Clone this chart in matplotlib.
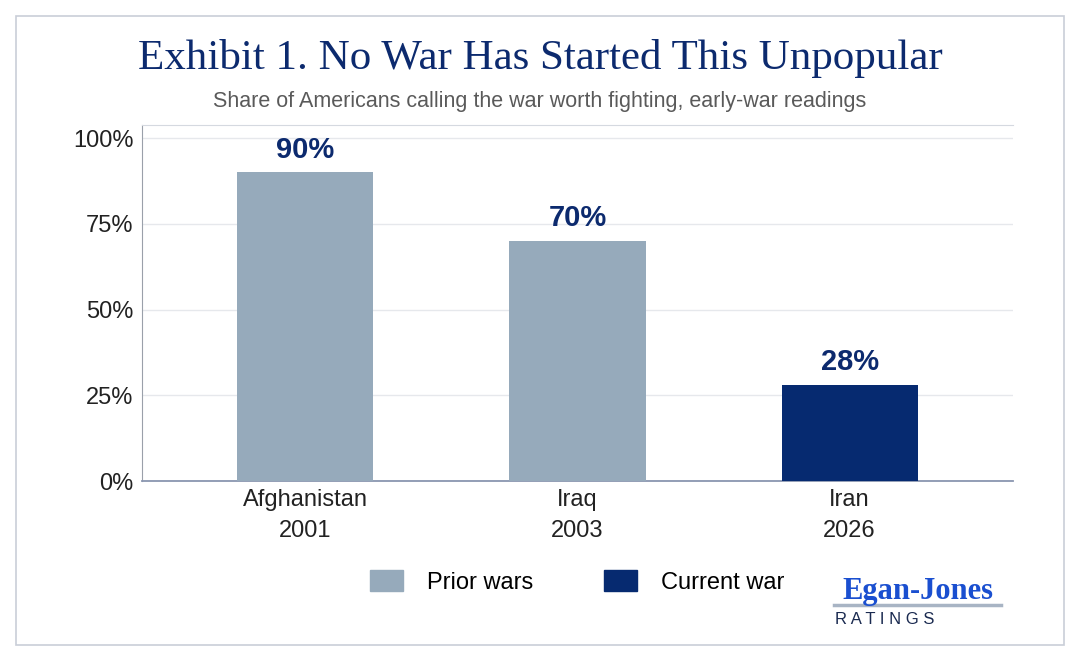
import matplotlib.pyplot as plt
from matplotlib.patches import Rectangle, Patch

WARS = ["Afghanistan\n2001", "Iraq\n2003", "Iran\n2026"]
SHARE = [90, 70, 28]
IS_CURRENT = [False, False, True]
Y_TICKS = [0, 25, 50, 75, 100]

PRIOR = "#96aabb"
CURRENT = "#062a70"
NAVY = "#0c2a6e"

plt.rcParams["font.family"] = ["Liberation Sans", "DejaVu Sans"]

fig = plt.figure(figsize=(10.8, 6.61), dpi=100)
fig.patches.append(Rectangle((16 / 1080, 16 / 661), 1048 / 1080, 629 / 661,
                             transform=fig.transFigure, fill=False,
                             edgecolor="#c9ced8", linewidth=1.2))

ax = fig.add_axes([142 / 1080, 1 - 481 / 661, 871 / 1080, 356 / 661])
x = range(len(WARS))
colors = [CURRENT if c else PRIOR for c in IS_CURRENT]
ax.bar(x, SHARE, width=0.5, color=colors, zorder=3)
for xi, v in zip(x, SHARE):
    ax.text(xi, v + 2.5, f"{v}%", ha="center", va="bottom", fontsize=21,
            fontweight="bold", color=NAVY)

ax.set_xlim(-0.6, 2.6)
ax.set_ylim(0, 103.8)
ax.set_yticks(Y_TICKS)
ax.set_yticklabels([f"{t}%" for t in Y_TICKS], fontsize=17, color="#222222")
ax.set_xticks(list(x))
ax.set_xticklabels(WARS, fontsize=17, color="#222222", linespacing=1.5)
ax.tick_params(axis="both", length=0, pad=6)
ax.grid(axis="y", color="#e6e8ec", linewidth=1, zorder=0)
for s in ["right"]:
    ax.spines[s].set_visible(False)
ax.spines["top"].set_color("#d5d9e0")
ax.spines["left"].set_color("#9aa0aa")
ax.spines["bottom"].set_color("#8a96b0")
ax.spines["bottom"].set_linewidth(1.3)

fig.text(0.5, 1 - 58 / 661, "Exhibit 1. No War Has Started This Unpopular",
         ha="center", va="center", fontsize=31, color=NAVY,
         family=["Liberation Serif", "DejaVu Serif"])
fig.text(0.5, 1 - 101 / 661,
         "Share of Americans calling the war worth fighting, early-war readings",
         ha="center", va="center", fontsize=15.5, color="#5a5a5a")

handles = [Patch(color=PRIOR, label="Prior wars"),
           Patch(color=CURRENT, label="Current war")]
fig.legend(handles=handles, loc="center", bbox_to_anchor=(577 / 1080, 1 - 582 / 661),
           ncol=2, frameon=False, fontsize=17, handlelength=1.4, handleheight=1.0,
           columnspacing=3.0, handletextpad=1.0)

fig.text(918 / 1080, 1 - 592 / 661, "Egan-Jones", ha="center", va="center",
         fontsize=22, fontweight="bold", color="#1a4fd0",
         family=["Liberation Serif", "DejaVu Serif"])
fig.add_artist(plt.Line2D([834 / 1080, 1001 / 1080], [1 - 605 / 661] * 2,
                          color="#a8b4c4", linewidth=2.5))
fig.text(885 / 1080, 1 - 619 / 661, "R A T I N G S", ha="center", va="center",
         fontsize=12, color="#1a2a50")

fig.savefig("out.png", dpi=100)
